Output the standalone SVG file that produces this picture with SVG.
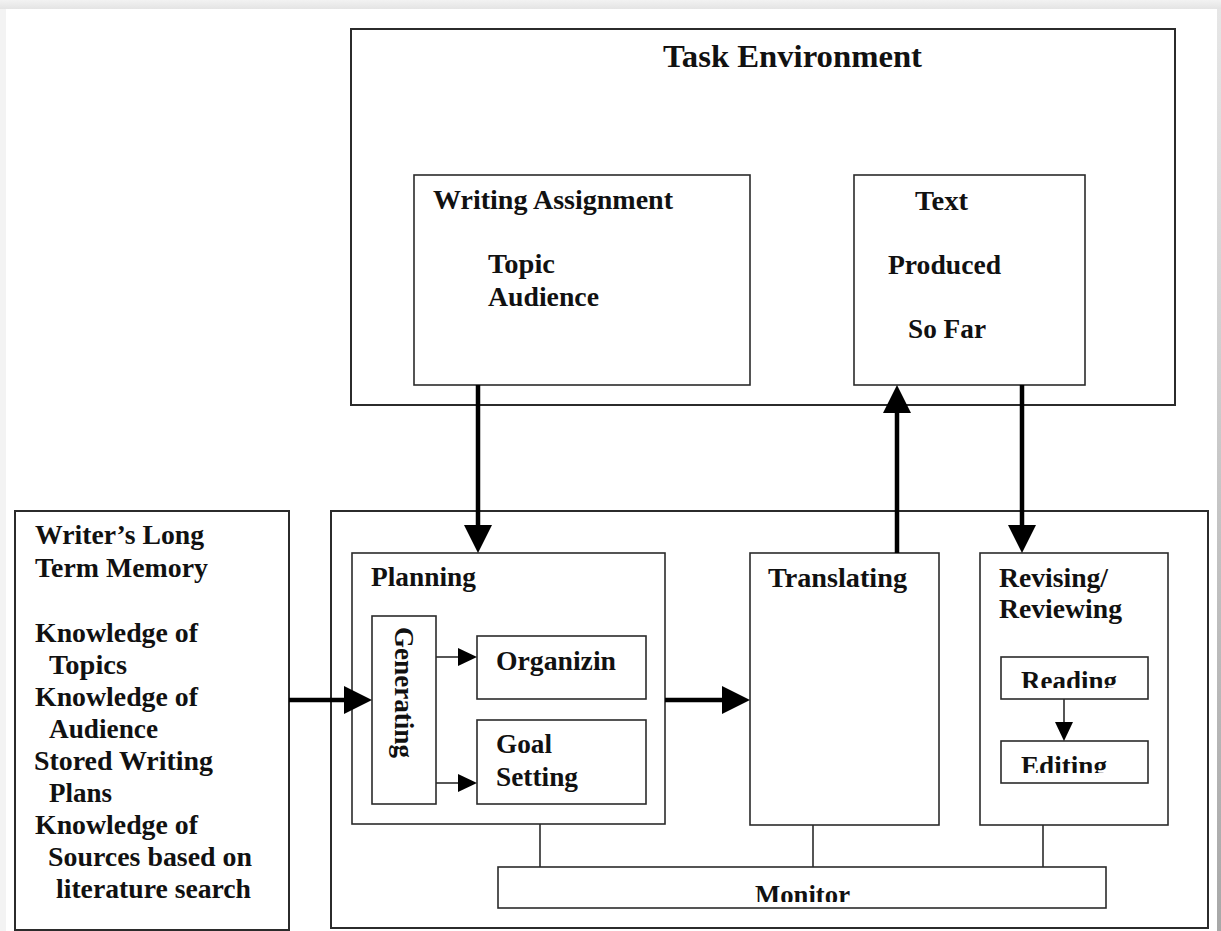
<svg xmlns="http://www.w3.org/2000/svg" width="1221" height="931" viewBox="0 0 1221 931">
  <defs>
    <style>
      .box { fill: #ffffff; stroke: #2b2b2b; stroke-width: 1.6; }
      .outer { fill: none; stroke: #2b2b2b; stroke-width: 2; }
      .lbl { font-family: "Liberation Serif", "Times New Roman", serif; font-weight: bold; font-size: 27px; fill: #111111; }
      .title { font-size: 32px; }
      .thick { stroke: #000000; stroke-width: 4.5; fill: none; }
      .thin { stroke: #2b2b2b; stroke-width: 1.6; fill: none; }
    </style>
    <marker id="bigHead" markerUnits="userSpaceOnUse" viewBox="0 0 28 28" markerWidth="28" markerHeight="28" refX="2" refY="14" orient="auto">
      <path d="M0,0 L28,14 L0,28 z" fill="#000000"/>
    </marker>
    <marker id="smallHead" markerUnits="userSpaceOnUse" viewBox="0 0 19 18" markerWidth="19" markerHeight="18" refX="1" refY="9" orient="auto">
      <path d="M0,0 L19,9 L0,18 z" fill="#000000"/>
    </marker>
    <linearGradient id="rightShade" x1="0" y1="0" x2="0" y2="1">
      <stop offset="0" stop-color="#e6e6e6"/>
      <stop offset="1" stop-color="#a8a8a8"/>
    </linearGradient>
    <linearGradient id="topShade" x1="0" y1="0" x2="0" y2="1">
      <stop offset="0" stop-color="#f2f2f2"/>
      <stop offset="1" stop-color="#e4e4e4"/>
    </linearGradient>
    <clipPath id="clipReading"><rect x="1001" y="657" width="147" height="31"/></clipPath>
    <clipPath id="clipEditing"><rect x="1001" y="741" width="147" height="32"/></clipPath>
    <clipPath id="clipMonitor"><rect x="498" y="867" width="608" height="35"/></clipPath>
  </defs>

  <!-- page and its frame -->
  <rect x="0" y="0" width="1221" height="931" fill="#f3f3f3"/>
  <rect x="0" y="0" width="1221" height="9" fill="url(#topShade)"/>
  <rect x="1217" y="9" width="4" height="922" fill="url(#rightShade)"/>
  <rect x="6" y="9" width="1211" height="922" fill="#ffffff"/>

  <!-- task environment -->
  <g id="task-environment">
    <rect class="outer" x="351" y="29" width="824" height="376"/>
    <text class="lbl title" x="663" y="67" textLength="259" lengthAdjust="spacingAndGlyphs">Task Environment</text>
  </g>

  <g id="writing-assignment">
    <rect class="box" x="414" y="175" width="336" height="210"/>
    <text class="lbl" x="433" y="209" textLength="240" lengthAdjust="spacingAndGlyphs">Writing Assignment</text>
    <text class="lbl" x="488" y="273" textLength="67" lengthAdjust="spacingAndGlyphs">Topic</text>
    <text class="lbl" x="488" y="306" textLength="111" lengthAdjust="spacingAndGlyphs">Audience</text>
  </g>

  <g id="text-produced">
    <rect class="box" x="854" y="175" width="231" height="210"/>
    <text class="lbl" x="915" y="210" textLength="53" lengthAdjust="spacingAndGlyphs">Text</text>
    <text class="lbl" x="888" y="274" textLength="113" lengthAdjust="spacingAndGlyphs">Produced</text>
    <text class="lbl" x="908" y="338" textLength="78" lengthAdjust="spacingAndGlyphs">So Far</text>
  </g>

  <!-- long term memory -->
  <g id="long-term-memory">
    <rect class="outer" x="15" y="511" width="274" height="419"/>
    <text class="lbl" x="35" y="544" textLength="169" lengthAdjust="spacingAndGlyphs">Writer’s Long</text>
    <text class="lbl" x="35" y="577" textLength="173" lengthAdjust="spacingAndGlyphs">Term Memory</text>
    <text class="lbl" x="35" y="642" textLength="163" lengthAdjust="spacingAndGlyphs">Knowledge of</text>
    <text class="lbl" x="49" y="674" textLength="78" lengthAdjust="spacingAndGlyphs">Topics</text>
    <text class="lbl" x="35" y="706" textLength="163" lengthAdjust="spacingAndGlyphs">Knowledge of</text>
    <text class="lbl" x="49" y="738" textLength="109" lengthAdjust="spacingAndGlyphs">Audience</text>
    <text class="lbl" x="34" y="770" textLength="179" lengthAdjust="spacingAndGlyphs">Stored Writing</text>
    <text class="lbl" x="49" y="802" textLength="63" lengthAdjust="spacingAndGlyphs">Plans</text>
    <text class="lbl" x="35" y="834" textLength="163" lengthAdjust="spacingAndGlyphs">Knowledge of</text>
    <text class="lbl" x="48" y="866" textLength="204" lengthAdjust="spacingAndGlyphs">Sources based on</text>
    <text class="lbl" x="56" y="898" textLength="195" lengthAdjust="spacingAndGlyphs">literature search</text>
  </g>

  <!-- writing processes -->
  <g id="writing-processes">
    <rect class="outer" x="331" y="511" width="877" height="417"/>
  </g>

  <g id="planning">
    <rect class="box" x="352" y="553" width="313" height="271"/>
    <text class="lbl" x="371" y="586" textLength="105" lengthAdjust="spacingAndGlyphs">Planning</text>
  </g>

  <g id="generating">
    <rect class="box" x="372" y="616" width="64" height="188"/>
    <text class="lbl" transform="translate(395 627) rotate(90)" x="0" y="0" textLength="131" lengthAdjust="spacingAndGlyphs">Generating</text>
  </g>

  <g id="organizing">
    <rect class="box" x="477" y="636" width="169" height="63"/>
    <text class="lbl" x="496" y="670" textLength="120" lengthAdjust="spacingAndGlyphs">Organizin</text>
  </g>

  <g id="goal-setting">
    <rect class="box" x="477" y="720" width="169" height="84"/>
    <text class="lbl" x="496" y="753" textLength="56" lengthAdjust="spacingAndGlyphs">Goal</text>
    <text class="lbl" x="496" y="786" textLength="82" lengthAdjust="spacingAndGlyphs">Setting</text>
  </g>

  <g id="translating">
    <rect class="box" x="750" y="553" width="189" height="272"/>
    <text class="lbl" x="768" y="587" textLength="139" lengthAdjust="spacingAndGlyphs">Translating</text>
  </g>

  <g id="revising">
    <rect class="box" x="980" y="553" width="188" height="272"/>
    <text class="lbl" x="999" y="587" textLength="109" lengthAdjust="spacingAndGlyphs">Revising/</text>
    <text class="lbl" x="999" y="618" textLength="123" lengthAdjust="spacingAndGlyphs">Reviewing</text>
  </g>

  <g id="reading">
    <rect class="box" x="1001" y="657" width="147" height="42"/>
    <text class="lbl" x="1021" y="690" textLength="96" lengthAdjust="spacingAndGlyphs" clip-path="url(#clipReading)">Reading</text>
  </g>

  <g id="editing">
    <rect class="box" x="1001" y="741" width="147" height="42"/>
    <text class="lbl" x="1021" y="775" textLength="86" lengthAdjust="spacingAndGlyphs" clip-path="url(#clipEditing)">Editing</text>
  </g>

  <g id="monitor">
    <rect class="box" x="498" y="867" width="608" height="41"/>
    <text class="lbl" x="755" y="904" textLength="95" lengthAdjust="spacingAndGlyphs" clip-path="url(#clipMonitor)">Monitor</text>
  </g>

  <!-- connectors -->
  <g id="connectors">
    <line class="thick" x1="478" y1="385" x2="478" y2="527" marker-end="url(#bigHead)"/>
    <line class="thick" x1="897" y1="553" x2="897" y2="411" marker-end="url(#bigHead)"/>
    <line class="thick" x1="1022" y1="385" x2="1022" y2="527" marker-end="url(#bigHead)"/>
    <line class="thick" x1="289" y1="700" x2="346" y2="700" marker-end="url(#bigHead)"/>
    <line class="thick" x1="665" y1="700" x2="724" y2="700" marker-end="url(#bigHead)"/>
    <line class="thin" x1="436" y1="657" x2="459" y2="657" marker-end="url(#smallHead)"/>
    <line class="thin" x1="436" y1="783" x2="459" y2="783" marker-end="url(#smallHead)"/>
    <line class="thin" x1="1064" y1="699" x2="1064" y2="723" marker-end="url(#smallHead)"/>
    <line class="thin" x1="540" y1="824" x2="540" y2="867"/>
    <line class="thin" x1="813" y1="825" x2="813" y2="867"/>
    <line class="thin" x1="1043" y1="825" x2="1043" y2="867"/>
  </g>
</svg>
